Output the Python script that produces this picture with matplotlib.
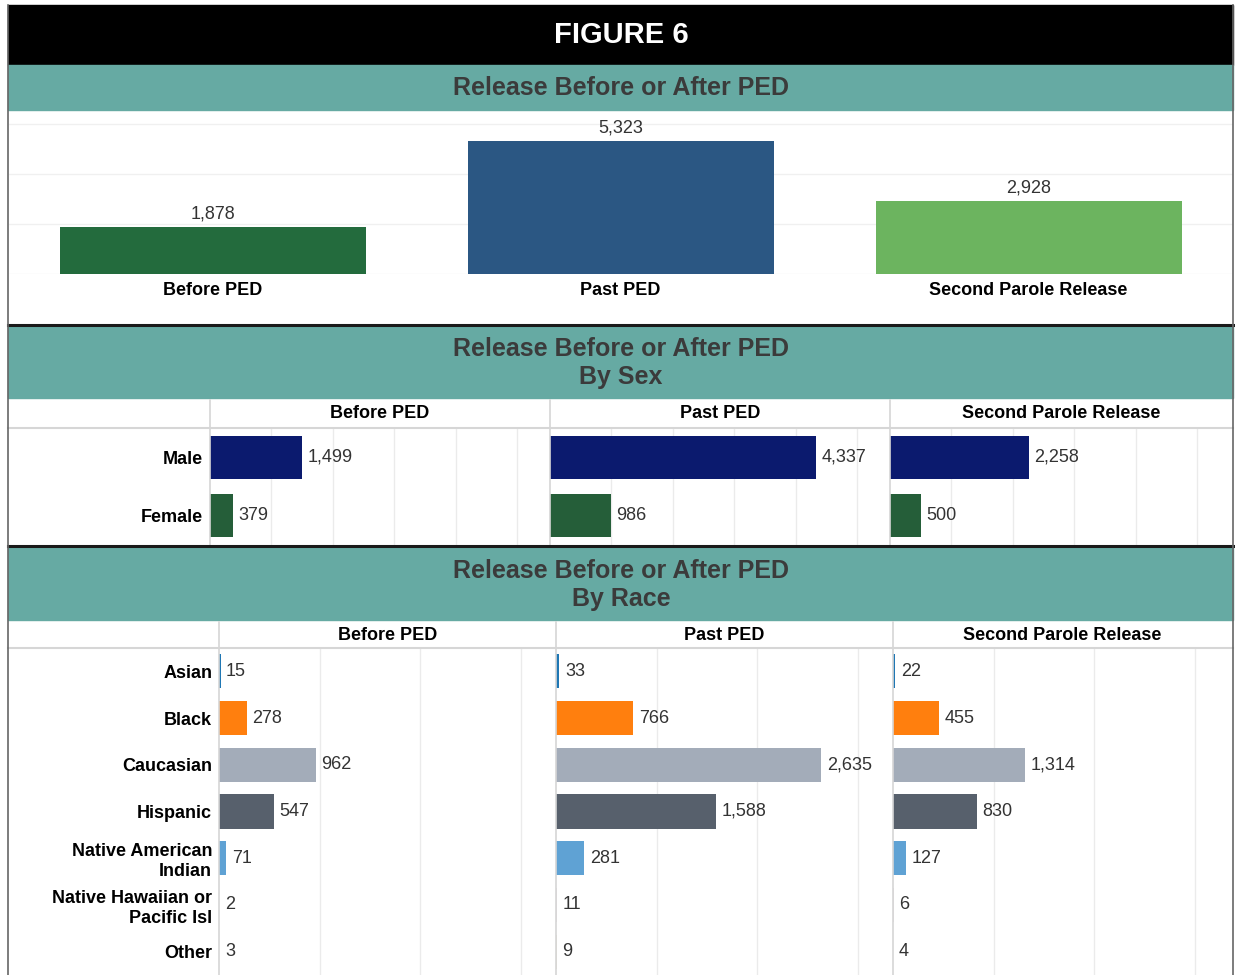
import matplotlib
matplotlib.use("Agg")
import matplotlib.pyplot as plt
from matplotlib.patches import Rectangle
from matplotlib.lines import Line2D

plt.rcParams['font.family'] = ['Liberation Sans', 'DejaVu Sans']

# data
release_types = ['Before PED', 'Past PED', 'Second Parole Release']
release_totals = [1878, 5323, 2928]
release_colors = ['#236B3D', '#2B5783', '#6CB45F']

sexes = ['Male', 'Female']
sex_before = [1499, 379]
sex_past = [4337, 986]
sex_second = [2258, 500]
sex_colors = ['#0B1A6E', '#255E39']

races = ['Asian', 'Black', 'Caucasian', 'Hispanic', 'Native American\nIndian',
         'Native Hawaiian or\nPacific Isl', 'Other']
race_before = [15, 278, 962, 547, 71, 2, 3]
race_past = [33, 766, 2635, 1588, 281, 11, 9]
race_second = [22, 455, 1314, 830, 127, 6, 4]
race_colors = ['#1F77B4', '#FF7F0E', '#A3ACB9', '#57606C', '#5FA2D4', '#E3D8E0', '#E6E0D0']

W, H = 1235, 975
TEAL = '#66AAA3'
HEAD = '#3B3B3B'
GRID = '#EBEBEB'
SEP = '#D6D6D6'

fig = plt.figure(figsize=(W / 100, H / 100), dpi=100)


def px_axes(x0, y0, x1, y1):
    return fig.add_axes([x0 / W, 1 - y1 / H, (x1 - x0) / W, (y1 - y0) / H])


def band(x0, y0, x1, y1, color):
    fig.add_artist(Rectangle((x0 / W, 1 - y1 / H), (x1 - x0) / W, (y1 - y0) / H,
                             transform=fig.transFigure, color=color, zorder=0))


def line(x0, y0, x1, y1, color, lw):
    fig.add_artist(Line2D([x0 / W, x1 / W], [1 - y0 / H, 1 - y1 / H],
                          transform=fig.transFigure, color=color, lw=lw, zorder=5))


def text(x, y, s, **kw):
    fig.text(x / W, 1 - y / H, s, ha='center', va='center', **kw)


# title bar and section bands
band(8, 5, 1233, 65, 'black')
text(621, 35, 'FIGURE 6', color='white', fontsize=21, fontweight='bold')
band(8, 65, 1233, 110, TEAL)
text(621, 88, 'Release Before or After PED', color=HEAD, fontsize=18, fontweight='bold')
band(8, 326, 1233, 398, TEAL)
text(621, 363, 'Release Before or After PED\nBy Sex', color=HEAD, fontsize=18,
     fontweight='bold', linespacing=1.18)
band(8, 547, 1233, 620, TEAL)
text(621, 585, 'Release Before or After PED\nBy Race', color=HEAD, fontsize=18,
     fontweight='bold', linespacing=1.18)

# top panel: totals
ax = px_axes(8.5, 110, 1232.5, 274)
x = range(len(release_types))
bars = ax.bar(x, release_totals, width=0.75, color=release_colors, zorder=3)
ax.bar_label(bars, labels=[f'{v:,}' for v in release_totals], padding=3,
             fontsize=13, color='#333333')
ax.set_xlim(-0.5, 2.5)
ax.set_ylim(0, 6560)
ax.set_yticks([0, 2000, 4000, 6000])
ax.yaxis.grid(True, color='#F0F0F0', lw=1)
ax.set_axisbelow(True)
ax.set_xticks(list(x))
ax.set_xticklabels(release_types, fontsize=13, fontweight='bold')
ax.tick_params(length=0, pad=6, labelleft=False)
for s in ax.spines.values():
    s.set_visible(False)
ax.patch.set_alpha(0)


def panel(cols, y0, y1, cats, series, colors, px_per_unit, ticks):
    axes = []
    for i, (c0, c1) in enumerate(cols):
        a = px_axes(c0, y0, c1, y1)
        vals = series[i]
        pos = list(range(len(cats)))
        b = a.barh(pos, vals, height=0.73, color=colors, zorder=3)
        a.bar_label(b, labels=[f'{v:,}' for v in vals], padding=4,
                    fontsize=13, color='#333333')
        a.set_xlim(0, (c1 - c0) / px_per_unit)
        a.set_ylim(len(cats) - 0.5, -0.5)
        a.set_xticks(ticks)
        a.xaxis.grid(True, color=GRID, lw=1)
        a.set_axisbelow(True)
        a.set_yticks(pos)
        if i == 0:
            labs = a.set_yticklabels(cats, fontsize=13, fontweight='bold')
            for t in labs:
                t.set_multialignment('right')
                t.set_linespacing(1.2)
        else:
            a.set_yticklabels([])
        a.tick_params(length=0, pad=5, labelbottom=False)
        for s in a.spines.values():
            s.set_visible(False)
        a.patch.set_alpha(0)
        axes.append(a)
    return axes


# by sex
sex_cols = [(210, 550), (550, 890), (890, 1232)]
panel(sex_cols, 428, 545, sexes, [sex_before, sex_past, sex_second],
      sex_colors, 0.0614, [1000, 2000, 3000, 4000, 5000])
for (c0, c1), name in zip(sex_cols, release_types):
    text((c0 + c1) / 2, 414, name, fontsize=13, fontweight='bold', color='black')
    line(c0, 400, c0, 545, SEP, 1.2)
line(8, 428, 1233, 428, SEP, 1.5)

# by race
race_cols = [(219, 556), (556, 893), (893, 1232)]
panel(race_cols, 648, 975, races, [race_before, race_past, race_second],
      race_colors, 0.1007, [1000, 2000, 3000])
for (c0, c1), name in zip(race_cols, release_types):
    text((c0 + c1) / 2, 636, name, fontsize=13, fontweight='bold', color='black')
    line(c0, 622, c0, 975, SEP, 1.2)
line(8, 648, 1233, 648, SEP, 1.5)

# section separators and outer border
line(8, 325, 1233, 325, '#1A1A1A', 2.2)
line(8, 546, 1233, 546, '#1A1A1A', 2.2)
line(8, 5, 8, 975, '#666666', 1.2)
line(1233, 5, 1233, 975, '#666666', 1.2)

fig.savefig('out.png', dpi=100)
